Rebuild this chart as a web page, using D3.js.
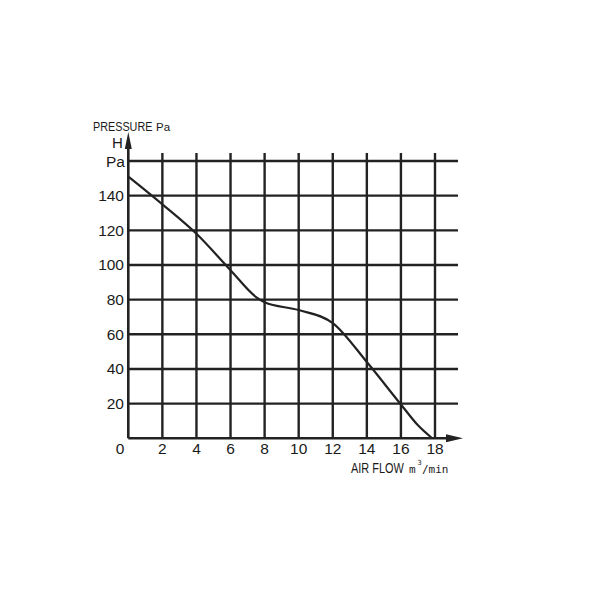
<!DOCTYPE html>
<html><head><meta charset="utf-8">
<script src="https://cdn.jsdelivr.net/npm/d3@7"></script>
<style>body{margin:0;background:#fff}svg{display:block}text{fill:#1a1a1a}.sans{font-family:"Liberation Sans",Arial,sans-serif}.mono{font-family:"DejaVu Sans Mono",monospace}</style>
</head><body><svg id="c" width="600" height="600"></svg>
<script>
const xTicks = [0,2,4,6,8,10,12,14,16,18];
const yTicks = [0,20,40,60,80,100,120,140];
const yTopLabel = "Pa";
const flow = [0,2,4,6,7.5,8,10,12,14,16,17,17.8];
const pressure = [151,135,118,97,81.5,78.5,74,66.5,44,19.5,7.5,0.3];

const svg = d3.select("#c");
const x = d3.scaleLinear().domain([0,18]).range([128.3,435]);
const y = d3.scaleLinear().domain([0,160]).range([438.3,161]);
const ink = "#222";

const hVals = yTicks.slice(1).concat([160]);
svg.selectAll(".h").data(hVals).enter().append("line")
  .attr("x1", x(0)).attr("x2", 458).attr("y1", d=>y(d)).attr("y2", d=>y(d))
  .attr("stroke", ink).attr("stroke-width", 2.4);
svg.selectAll(".v").data(xTicks.slice(1)).enter().append("line")
  .attr("x1", d=>x(d)).attr("x2", d=>x(d)).attr("y1", 153).attr("y2", y(0))
  .attr("stroke", ink).attr("stroke-width", 2.4);

svg.append("line").attr("x1", x(0)).attr("x2", 450).attr("y1", y(0)).attr("y2", y(0))
  .attr("stroke", ink).attr("stroke-width", 2.6);
svg.append("path").attr("d", `M463,${y(0)} L446,${y(0)-4} L446,${y(0)+4} Z`).attr("fill", ink);
svg.append("line").attr("x1", x(0)).attr("x2", x(0)).attr("y1", 145).attr("y2", y(0))
  .attr("stroke", ink).attr("stroke-width", 2.6);
svg.append("path").attr("d", `M${x(0)},132 L${x(0)-3.5},149 L${x(0)+3.5},149 Z`).attr("fill", ink);

svg.append("path")
  .datum(flow.map((f,i)=>[f,pressure[i]]))
  .attr("d", d3.line().x(d=>x(d[0])).y(d=>y(d[1])).curve(d3.curveMonotoneX))
  .attr("fill","none").attr("stroke", ink).attr("stroke-width", 2.2);

svg.selectAll(".yl").data(yTicks.slice(1)).enter().append("text").attr("class","sans")
  .attr("x", 124).attr("y", d=>y(d)+5.5).attr("text-anchor","end")
  .attr("font-size", 15.5).text(d=>d);
svg.append("text").attr("class","sans").attr("x",125).attr("y", y(160)+5.5).attr("text-anchor","end")
  .attr("font-size",15.5).text(yTopLabel);
svg.append("text").attr("class","sans").attr("x",112).attr("y",148).attr("font-size",15).text("H");

svg.selectAll(".xl").data(xTicks).enter().append("text").attr("class","sans")
  .attr("x", d=> d===0 ? 120 : x(d)).attr("y", 454).attr("text-anchor","middle")
  .attr("font-size", 15.5).text(d=>d);

svg.append("text").attr("class","sans").attr("transform","translate(93,131) scale(0.8,1)")
  .attr("font-size",13.5).text("PRESSURE");
svg.append("text").attr("class","sans").attr("x",156).attr("y",131).attr("font-size",11.5).text("Pa");
svg.append("text").attr("class","sans").attr("transform","translate(351,473) scale(0.78,1)")
  .attr("font-size",14).text("AIR FLOW");
svg.append("text").attr("class","mono").attr("x",409).attr("y",473).attr("font-size",11).text("m");
svg.append("text").attr("class","mono").attr("x",417.5).attr("y",465).attr("font-size",7).text("3");
svg.append("text").attr("class","mono").attr("x",422).attr("y",473).attr("font-size",11).text("/min");
</script></body></html>
